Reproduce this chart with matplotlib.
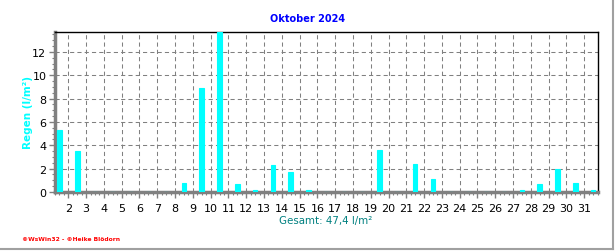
import matplotlib.pyplot as plt
import numpy as np
from matplotlib.ticker import MultipleLocator

# daily rain October 2024 (l/m²)
days = list(range(1, 32))
rain = [5.3, 3.5, 0.0, 0.0, 0.0, 0.0, 0.0, 0.8, 8.9, 13.7,
        0.7, 0.2, 2.3, 1.7, 0.2, 0.0, 0.0, 0.0, 3.6, 0.0,
        2.4, 1.1, 0.0, 0.0, 0.0, 0.0, 0.2, 0.7, 2.0, 0.8, 0.2]
tick_days = list(range(2, 32))
y_ticks = [0, 2, 4, 6, 8, 10, 12]
title = "Oktober 2024"
total_text = "Gesamt: 47,4 l/m²"

fig = plt.figure(figsize=(6.16, 2.53), dpi=100)
ax = fig.add_axes([0.0888, 0.2372, 0.8812, 0.6324])

x = np.array(days) + 0.5
ax.bar(x, rain, width=0.26, color='#00ffff', edgecolor='#00ffff', linewidth=0.8, zorder=4)

ax.set_xlim(1.235, 31.75)
ax.set_ylim(0, max(rain))
ax.set_xticks(tick_days)
ax.set_xticklabels([str(d) for d in tick_days])
ax.set_yticks(y_ticks)
ax.xaxis.set_minor_locator(MultipleLocator(0.25))
ax.yaxis.set_minor_locator(MultipleLocator(0.5))

ax.grid(True, which='major', color='#808080', linestyle=(0, (4, 3)), linewidth=0.75, zorder=1)
ax.tick_params(axis='both', which='major', labelsize=8, length=4, color='#808080', width=1, pad=2)
ax.tick_params(axis='both', which='minor', length=2.5, color='#808080', width=0.8)
ax.tick_params(axis='x', pad=4)

for s in ['left', 'bottom']:
    ax.spines[s].set_color('#808080')
    ax.spines[s].set_linewidth(2.5)
for s in ['top', 'right']:
    ax.spines[s].set_color('black')
    ax.spines[s].set_linewidth(1)

ax.set_ylabel("Regen (l/m²)", color='#00ffff', fontsize=7.5, fontweight='bold', labelpad=-0.5)

fig.text(0.5, 0.925, title, color='#0000ff', fontsize=7, fontweight='bold', ha='center', va='center')
fig.text(0.529, 0.125, total_text, color='#008080', fontsize=7.4, ha='center', va='center')
fig.text(0.036, 0.055, "©WsWin32 - ©Heike Blödorn", color='#ff0000', fontsize=4.3, fontweight='bold',
         ha='left', va='center')

# grey frame on right and bottom
fig.add_artist(plt.Line2D([0.9955, 0.9955], [0.01, 1], transform=fig.transFigure, color='#a0a0a0', linewidth=1.5))
fig.add_artist(plt.Line2D([0, 0.9955], [0.012, 0.012], transform=fig.transFigure, color='#a0a0a0', linewidth=1.5))

fig.savefig("out.png", dpi=100)
